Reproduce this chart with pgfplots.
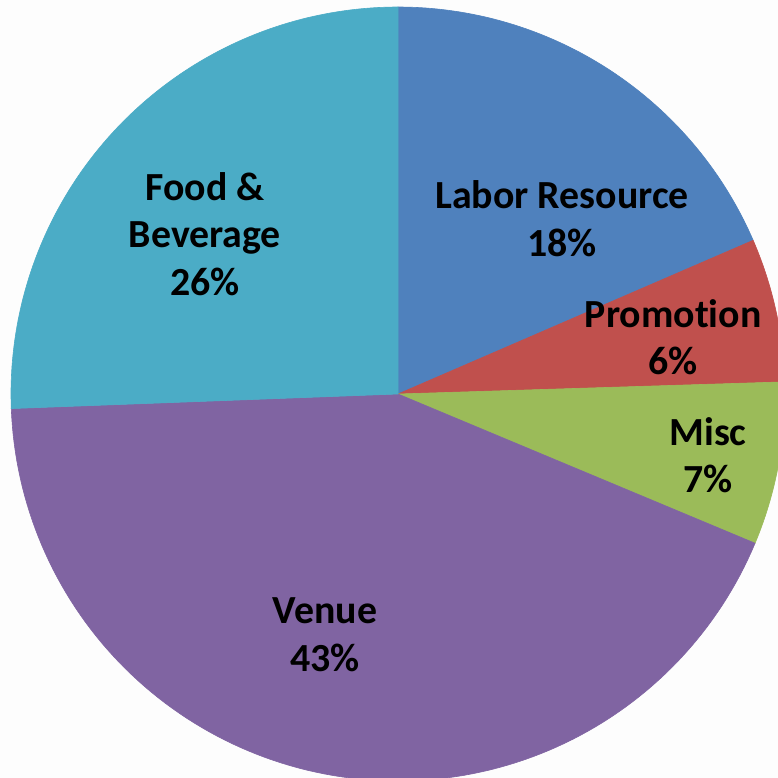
\documentclass[border=0pt]{standalone}
\usepackage{pgfplots}
\usepackage{pgfplotstable}
\pgfplotsset{compat=1.18}
\usepackage{fontspec}
\setmainfont{Carlito}[Ligatures=NoCommon]
\definecolor{cLabor}{HTML}{4F81BD}
\definecolor{cPromo}{HTML}{C0504D}
\definecolor{cMisc}{HTML}{9BBB59}
\definecolor{cVenue}{HTML}{8064A2}
\definecolor{cFood}{HTML}{4BACC6}
\definecolor{offwhite}{RGB}{253,253,253}
\pgfplotstableread{
label value
Labor 18.5
Promotion 6.0
Misc 6.8
Venue 43.1
Food 25.6
}\piedata
\newcommand\getval[2]{\pgfplotstablegetelem{#1}{value}\of\piedata\let#2\pgfplotsretval}
\begin{document}
\begin{tikzpicture}
\getval{0}{\vA}\getval{1}{\vB}\getval{2}{\vC}\getval{3}{\vD}\getval{4}{\vE}
\pgfmathsetmacro\aA{90}
\pgfmathsetmacro\aB{\aA-3.6*\vA}
\pgfmathsetmacro\aC{\aB-3.6*\vB}
\pgfmathsetmacro\aD{\aC-3.6*\vC}
\pgfmathsetmacro\aE{\aD-3.6*\vD}
\pgfmathsetmacro\aF{\aE-3.6*\vE}
\begin{axis}[
  width=389bp, height=389bp, scale only axis,
  xmin=-1.0284, xmax=0.9819, ymin=-0.9922, ymax=1.0181,
  hide axis, clip=true, clip bounding box=upper bound,
  axis background/.style={fill=offwhite},
  every axis plot/.append style={samples=120, line width=0.3pt},
  nodes={font=\fontsize{20}{24}\selectfont\bfseries, align=center, text=black},
]
\addplot[fill=cLabor, draw=cLabor, domain=\aB:\aA] ({cos(x)},{sin(x)}) -- (axis cs:0,0) -- cycle;
\addplot[fill=cPromo, draw=cPromo, domain=\aC:\aB] ({cos(x)},{sin(x)}) -- (axis cs:0,0) -- cycle;
\addplot[fill=cMisc, draw=cMisc, domain=\aD:\aC] ({cos(x)},{sin(x)}) -- (axis cs:0,0) -- cycle;
\addplot[fill=cVenue, draw=cVenue, domain=\aE:\aD] ({cos(x)},{sin(x)}) -- (axis cs:0,0) -- cycle;
\addplot[fill=cFood, draw=cFood, domain=\aF:\aE] ({cos(x)},{sin(x)}) -- (axis cs:0,0) -- cycle;
\node at (axis cs:0.424,0.452) {Labor Resource\\18\%};
\node at (axis cs:0.711,0.147) {Promotion\\6\%};
\node at (axis cs:0.801,-0.158) {Misc\\7\%};
\node at (axis cs:-0.189,-0.623) {Venue\\43\%};
\node at (axis cs:-0.499,0.413) {Food \&\\Beverage\\26\%};
\end{axis}
\end{tikzpicture}
\end{document}
